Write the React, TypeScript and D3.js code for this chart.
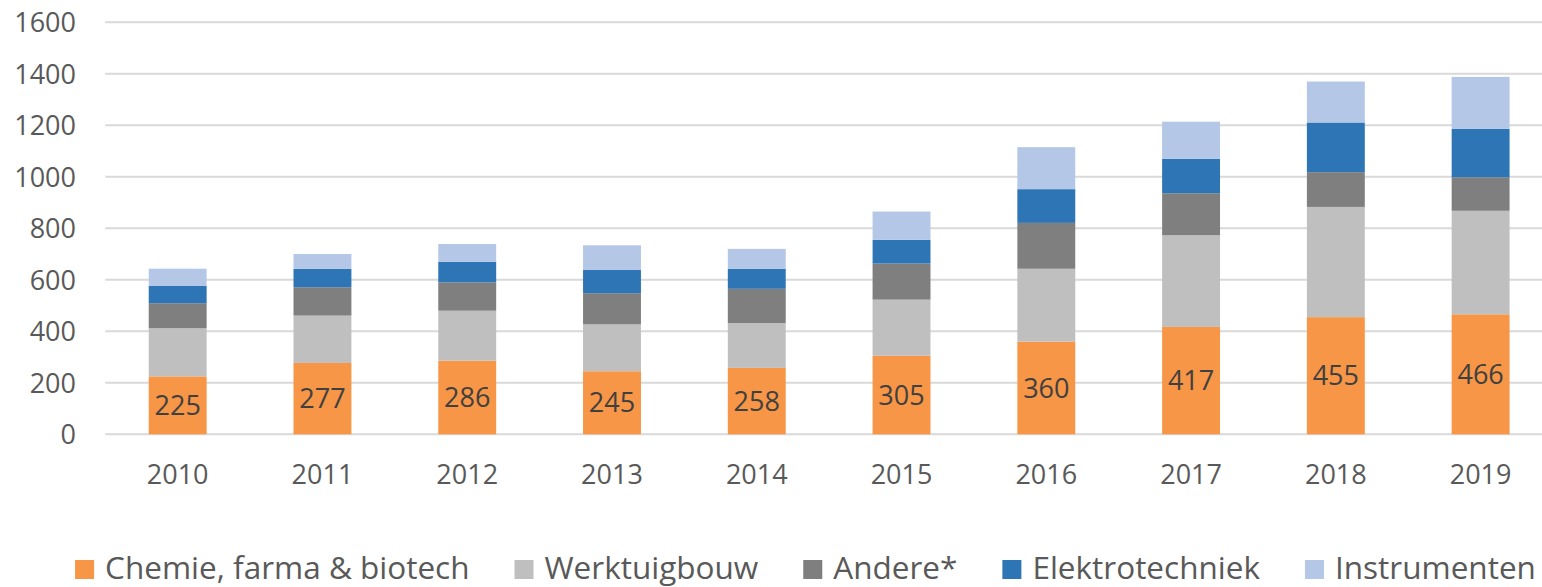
import React, { useRef, useEffect } from 'react'
import * as d3 from 'd3'

const years = ['2010', '2011', '2012', '2013', '2014', '2015', '2016', '2017', '2018', '2019']
const chemie = [225, 277, 286, 245, 258, 305, 360, 417, 455, 466]
const werktuigbouw = [187, 184, 194, 182, 174, 218, 283, 356, 428, 402]
const andere = [97, 110, 110, 121, 133, 140, 178, 163, 135, 130]
const elektrotechniek = [67, 72, 80, 90, 78, 92, 131, 134, 193, 188]
const instrumenten = [67, 57, 69, 96, 77, 110, 163, 144, 159, 202]

const seriesNames = ['Chemie, farma & biotech', 'Werktuigbouw', 'Andere*', 'Elektrotechniek', 'Instrumenten']
const seriesKeys = ['chemie', 'werktuigbouw', 'andere', 'elektrotechniek', 'instrumenten']
const colors = ['#F79646', '#BFBFBF', '#7F7F7F', '#2E75B6', '#B4C7E7']
const yTicks = [0, 200, 400, 600, 800, 1000, 1200, 1400, 1600]

const W = 1542
const H = 587
const FONT = '"Open Sans", sans-serif'

export default function App() {
  const svgRef = useRef<SVGSVGElement>(null)

  useEffect(() => {
    const svg = d3.select(svgRef.current)
    svg.selectAll('*').remove()

    const rows = years.map((y, i) => ({
      year: y,
      chemie: chemie[i],
      werktuigbouw: werktuigbouw[i],
      andere: andere[i],
      elektrotechniek: elektrotechniek[i],
      instrumenten: instrumenten[i],
    }))

    const x = d3.scaleBand().domain(years).range([105.3, 1553]).paddingInner(0.6).paddingOuter(0.3)
    const y = d3.scaleLinear().domain([0, 1600]).range([434.3, 22.3])

    // gridlines
    svg.append('g')
      .selectAll('line')
      .data(yTicks)
      .join('line')
      .attr('x1', 105.3)
      .attr('x2', 1553)
      .attr('y1', d => y(d))
      .attr('y2', d => y(d))
      .attr('stroke', '#D9D9D9')
      .attr('stroke-width', 2)

    // y labels
    svg.append('g')
      .selectAll('text')
      .data(yTicks)
      .join('text')
      .attr('x', 76)
      .attr('y', d => y(d))
      .attr('dy', '0.36em')
      .attr('text-anchor', 'end')
      .attr('font-family', FONT)
      .attr('font-size', 27)
      .attr('fill', '#595959')
      .text(d => d)

    const stacked = d3.stack<any>().keys(seriesKeys)(rows)

    svg.append('g')
      .selectAll('g')
      .data(stacked)
      .join('g')
      .attr('fill', (d, i) => colors[i])
      .selectAll('rect')
      .data(d => d)
      .join('rect')
      .attr('x', d => x(d.data.year)!)
      .attr('width', x.bandwidth())
      .attr('y', d => y(d[1]))
      .attr('height', d => y(d[0]) - y(d[1]))

    // labels in de oranje segmenten
    svg.append('g')
      .selectAll('text')
      .data(stacked[0])
      .join('text')
      .attr('x', d => x(d.data.year)! + x.bandwidth() / 2)
      .attr('y', d => (y(d[0]) + y(d[1])) / 2)
      .attr('dy', '0.36em')
      .attr('text-anchor', 'middle')
      .attr('font-family', FONT)
      .attr('font-size', 27)
      .attr('fill', '#404040')
      .text(d => d.data.chemie)

    // x labels
    svg.append('g')
      .selectAll('text')
      .data(years)
      .join('text')
      .attr('x', d => x(d)! + x.bandwidth() / 2)
      .attr('y', 484)
      .attr('text-anchor', 'middle')
      .attr('font-family', FONT)
      .attr('font-size', 27)
      .attr('fill', '#595959')
      .text(d => d)

    // legend, measured then centred
    const legend = svg.append('g')
    const items = legend.selectAll('g')
      .data(seriesNames)
      .join('g')
    items.append('rect')
      .attr('width', 19)
      .attr('height', 19)
      .attr('y', 560)
      .attr('fill', (d, i) => colors[i])
    items.append('text')
      .attr('x', 30)
      .attr('y', 579)
      .attr('font-family', FONT)
      .attr('font-size', 31.5)
      .attr('fill', '#595959')
      .text(d => d)

    const widths: number[] = []
    items.select('text').each(function () {
      widths.push(30 + (this as SVGTextElement).getComputedTextLength())
    })
    const gap = 45
    const total = d3.sum(widths) + gap * (widths.length - 1)
    let cx = 805.5 - total / 2
    items.attr('transform', (d, i) => {
      const t = 'translate(' + cx + ',0)'
      cx += widths[i] + gap
      return t
    })
  }, [])

  return (
    <svg
      ref={svgRef}
      width={W}
      height={H}
      style={{ position: 'absolute', left: 0, top: 0, background: '#fff' }}
    />
  )
}
